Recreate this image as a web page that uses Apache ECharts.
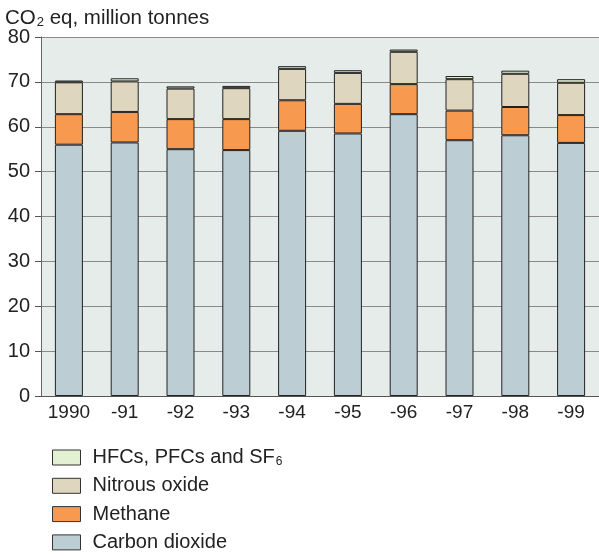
<!DOCTYPE html>
<html><head><meta charset="utf-8">
<script src="https://cdn.jsdelivr.net/npm/echarts@6/dist/echarts.min.js"></script>
<style>html,body{margin:0;padding:0;background:#fff}#c{width:599px;height:558px}</style>
</head><body><div id="c"></div>
<script>
const categories = ['1990','-91','-92','-93','-94','-95','-96','-97','-98','-99'];
const carbonDioxide = [56.0, 56.5, 55.0, 54.8, 59.1, 58.5, 62.8, 57.0, 58.1, 56.4];
const methane =       [6.8, 6.8, 6.7, 6.9, 6.8, 6.6, 6.7, 6.6, 6.3, 6.2];
const nitrousOxide =  [7.1, 6.8, 6.8, 6.9, 7.0, 6.9, 7.2, 7.0, 7.4, 7.2];
const hfcs =          [0.4, 0.7, 0.5, 0.5, 0.6, 0.6, 0.5, 0.7, 0.7, 0.8];
const yTicks = [0, 10, 20, 30, 40, 50, 60, 70, 80];
const legendOrder = ['HFCs, PFCs and SF6','Nitrous oxide','Methane','Carbon dioxide'];

const font = 'Liberation Sans, Arial, sans-serif';
const chart = echarts.init(document.getElementById('c'));
const border = {borderColor:'#222', borderWidth:1};
function s(name, data, color){
  return {name, type:'bar', stack:'t', data, barWidth:28,
    itemStyle:Object.assign({color}, border)};
}
const legendRich = {
  a:{fontSize:20, color:'#222', fontFamily:font},
  s:{fontSize:12, color:'#222', fontFamily:font, verticalAlign:'bottom', padding:[0,0,0,1]}
};
const legends = legendOrder.map(function(n, i){
  return {
    orient:'vertical', left:47, top:442.5 + i*28.3, itemWidth:28, itemHeight:15,
    icon:'rect', data:[n],
    formatter:function(n){ return n==='HFCs, PFCs and SF6' ? '{a|HFCs, PFCs and SF}{s|6}' : '{a|'+n+'}'; },
    textStyle:{padding:[0,0,0,7], rich:legendRich},
    itemStyle:{borderColor:'#333', borderWidth:1}
  };
});
chart.setOption({
  animation:false,
  textStyle:{fontFamily:font},
  title:{
    text:'{a|CO}{s|2}{a| eq, million tonnes}', left:0, top:3,
    textStyle:{fontWeight:'normal', rich:{
      a:{fontSize:20.5, color:'#222', fontFamily:font, fontWeight:'normal'},
      s:{fontSize:13, color:'#222', fontFamily:font, fontWeight:'normal', verticalAlign:'bottom', padding:[0,0,0,1]}
    }}
  },
  grid:{left:41, right:0, top:37, bottom:162, show:true, backgroundColor:'#e6ecea', borderWidth:0},
  legend:legends,
  xAxis:{type:'category', data:categories,
    axisLine:{lineStyle:{color:'#555', width:1}},
    axisTick:{show:false},
    axisLabel:{interval:0, fontSize:19, color:'#222', margin:7, fontFamily:font}
  },
  yAxis:{type:'value', min:yTicks[0], max:yTicks[yTicks.length-1], interval:10,
    axisLine:{show:true, lineStyle:{color:'#666', width:1}},
    axisTick:{show:true, length:6, lineStyle:{color:'#555'}},
    axisLabel:{fontSize:20, color:'#222', margin:11, fontFamily:font},
    splitLine:{lineStyle:{color:'#8a8a8a', width:1}}
  },
  series:[
    s('Carbon dioxide', carbonDioxide, '#bccdd4'),
    s('Methane', methane, '#f79a50'),
    s('Nitrous oxide', nitrousOxide, '#ded6bf'),
    s('HFCs, PFCs and SF6', hfcs, '#e4f0d2')
  ]
});
</script></body></html>
